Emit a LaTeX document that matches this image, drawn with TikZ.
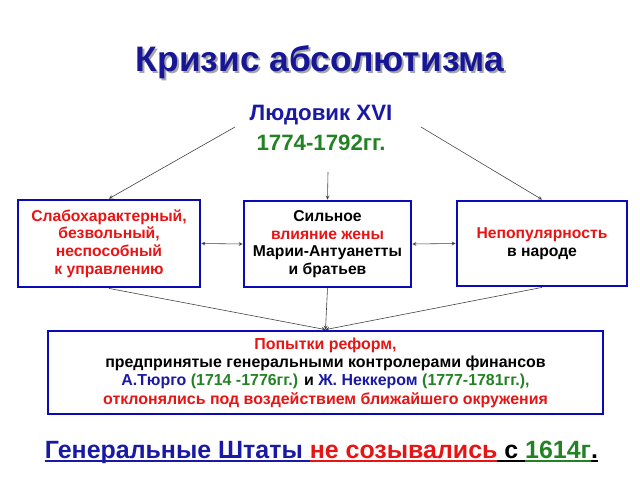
\documentclass[tikz,border=0pt]{standalone}
\usepackage{fontspec}
\setmainfont{Liberation Sans}
\usepackage{tikz}
\usetikzlibrary{positioning, arrows}

\definecolor{titleblue}{RGB}{22,22,150}
\definecolor{boxblue}{RGB}{10,10,185}
\definecolor{textblue}{RGB}{25,25,165}
\definecolor{textred}{RGB}{232,20,20}
\definecolor{textgreen}{RGB}{35,130,35}

% underlined piece at a fixed depth
\newcommand{\ulpart}[1]{\setbox0\hbox{#1}\rlap{\rule[-3pt]{\wd0}{1.3pt}}\box0}

\begin{document}
\begin{tikzpicture}[x=0.03cm, y=-0.03cm,
        % Define styles for the components
        block/.style={rectangle, draw=boxblue, line width=2.4pt, align=center, inner sep=0pt, font=\bfseries\fontsize{13.4}{15}\selectfont},
        heading/.style={font=\bfseries\fontsize{30.2}{34}\selectfont},
        arrow/.style={->, >=stealth, black!75, line width=0.5pt},
        twoway/.style={<->, >=stealth, black!75, line width=0.5pt}
    ]
    \useasboundingbox (0,0) rectangle (640,480);

    % Define nodes
    \node[heading, black!35] (titleshadow) at (322,64) {Кризис абсолютизма};
    \node[heading, titleblue] (title) at (320,62) {Кризис абсолютизма};
    \node[align=center, font=\bfseries\fontsize{19}{25.5}\selectfont] (king) at (321,128)
        {\textcolor{textblue}{Людовик XVI}\\ \textcolor{textgreen}{1774-1792гг.}};
    \coordinate (kingL) at (235,127);
    \coordinate (kingR) at (421,127);
    \coordinate (kingS) at (328,172);

    \node[block, text=textred, minimum width=5.46cm, minimum height=2.61cm] (weak) at (109,243.5)
        {Слабохарактерный,\\ безвольный,\\ неспособный\\ к управлению};
    \node[block, minimum width=5.01cm, minimum height=2.58cm] (wife) at (327.5,244)
        {Сильное\\ \textcolor{textred}{влияние жены}\\ Марии-Антуанетты\\ и братьев};
    \node[block, minimum width=5.1cm, minimum height=2.55cm] (unpop) at (542,243.5)
        {\textcolor{textred}{Непопулярность}\\ в народе};
    \node[block, minimum width=16.65cm, minimum height=2.49cm, font=\bfseries\fontsize{13.6}{15.7}\selectfont] (reform) at (325.5,372.5)
        {\textcolor{textred}{Попытки реформ,}\\
         предпринятые генеральными контролерами финансов\\
         \textcolor{textblue}{А.Тюрго} \textcolor{textgreen}{(1714 -1776гг.)} и \textcolor{textblue}{Ж. Неккером} \textcolor{textgreen}{(1777-1781гг.),}\\
         \textcolor{textred}{отклонялись под воздействием ближайшего окружения}};

    \node[font=\bfseries\fontsize{21.3}{25}\selectfont] (states) at (321.5,452)
        {\textcolor{textblue}{\ulpart{Генеральные Штаты }}\textcolor{textred}{\ulpart{не созывались}}\ulpart{ с }\textcolor{textgreen}{\ulpart{1614г}}\ulpart{.}};

    % Draw arrows
    \draw[arrow] (kingL) -- (weak.north);
    \draw[arrow] (kingS) -- (wife.north);
    \draw[arrow] (kingR) -- (unpop.north);
    \draw[twoway] (weak.east) -- (wife.west);
    \draw[twoway] (wife.east) -- (unpop.west);
    \draw[arrow] (weak.south) -- (reform.north);
    \draw[arrow] (wife.south) -- (reform.north);
    \draw[arrow] (unpop.south) -- (reform.north);
\end{tikzpicture}
\end{document}
